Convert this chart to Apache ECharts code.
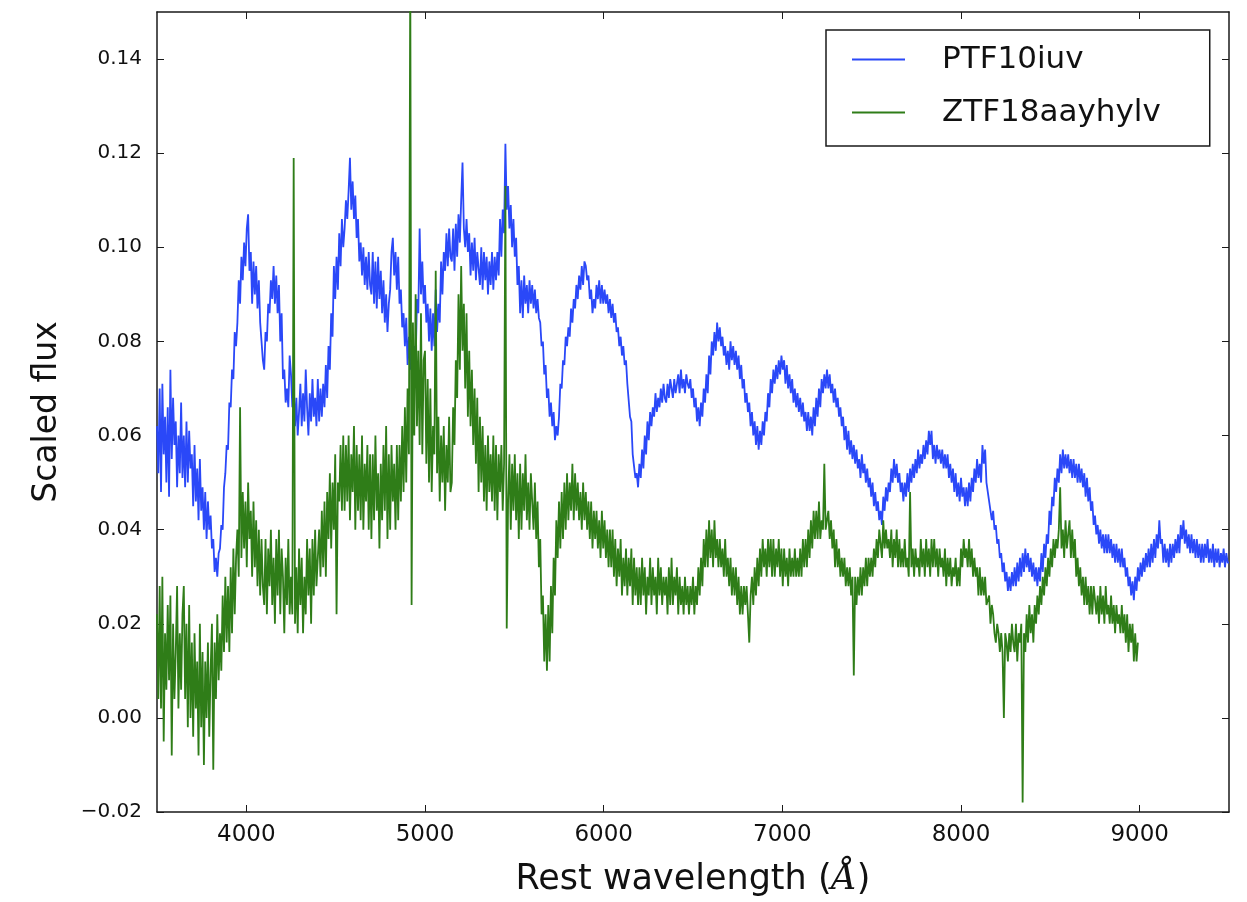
<!DOCTYPE html>
<html>
<head>
<meta charset="utf-8">
<script src="https://cdn.jsdelivr.net/npm/echarts@6/dist/echarts.min.js"></script>
<style>
html,body{margin:0;padding:0;background:#ffffff;}
#chart{width:1247px;height:902px;}
</style>
</head>
<body>
<div id="chart"></div>
<script>
// ---- data (flux values in units of 0.001) ----
const seriesNames = ['PTF10iuv', 'ZTF18aayhylv'];
const xTickValues = [4000, 5000, 6000, 7000, 8000, 9000];
const yTickValues = [-0.02, 0.00, 0.02, 0.04, 0.06, 0.08, 0.10, 0.12, 0.14];

// wavelength grid (Angstrom) of the sampled points
const ptfStart = 3500, ptfStep = 7.5;
const ptfFluxMilli = [
  62, 52, 70, 48, 71, 56, 64, 50, 66, 47, 74, 55, 68, 58, 63, 49, 60, 52, 67, 51,
  60, 49, 63, 50, 61, 53, 56, 45, 58, 46, 53, 42, 55, 44, 49, 40, 48, 38, 46, 40,
  43, 36, 38, 31, 34, 30, 35, 36, 41, 40, 49, 52, 58, 57, 67, 66, 74, 72, 82, 79,
  84, 93, 88, 98, 93, 101, 96, 104, 107, 95, 99, 88, 97, 90, 96, 87, 93, 84, 80, 76,
  74, 82, 80, 88, 86, 93, 89, 96, 88, 94, 86, 92, 80, 86, 72, 74, 67, 70, 66, 77,
  73, 66, 70, 62, 68, 60, 65, 71, 62, 69, 63, 74, 66, 60, 69, 63, 72, 64, 68, 62,
  72, 63, 70, 64, 71, 66, 75, 68, 79, 74, 86, 81, 96, 89, 98, 91, 103, 96, 106, 100,
  104, 110, 106, 112, 119, 108, 114, 106, 111, 102, 106, 97, 101, 94, 100, 92, 98, 91, 99, 92,
  90, 99, 88, 97, 87, 98, 89, 95, 86, 93, 84, 90, 82, 88, 91, 99, 102, 94, 99, 91,
  98, 88, 91, 83, 86, 79, 85, 75, 81, 74, 80, 73, 79, 75, 89, 86, 104, 90, 97, 88,
  92, 84, 88, 80, 87, 78, 86, 79, 91, 82, 88, 84, 97, 90, 99, 95, 103, 96, 104, 98,
  97, 104, 95, 105, 98, 107, 101, 110, 118, 104, 100, 106, 99, 103, 94, 101, 95, 102, 93, 99,
  99, 92, 100, 91, 99, 93, 98, 90, 97, 92, 99, 91, 98, 93, 99, 94, 106, 98, 108, 103,
  122, 108, 113, 104, 109, 100, 106, 98, 102, 92, 96, 86, 93, 85, 94, 88, 92, 86, 93, 88,
  92, 87, 91, 86, 89, 85, 84, 79, 80, 73, 75, 68, 70, 64, 67, 62, 65, 59, 62, 60,
  64, 71, 70, 76, 75, 81, 79, 83, 81, 87, 84, 89, 87, 92, 89, 94, 91, 96, 92, 97,
  96, 93, 94, 89, 91, 86, 89, 87, 92, 89, 93, 88, 92, 88, 91, 88, 90, 86, 89, 85,
  88, 84, 86, 82, 83, 79, 81, 77, 79, 75, 76, 71, 71, 64, 63, 56, 56, 51, 52, 49,
  54, 51, 57, 53, 60, 56, 63, 59, 65, 62, 66, 64, 69, 65, 68, 66, 70, 67, 71, 68,
  67, 71, 68, 72, 70, 68, 72, 69, 71, 73, 69, 74, 70, 72, 69, 73, 71, 70, 72, 68,
  70, 66, 68, 63, 66, 62, 67, 64, 70, 67, 73, 69, 77, 73, 80, 77, 82, 78, 84, 80,
  83, 79, 81, 77, 79, 75, 78, 74, 80, 76, 79, 75, 78, 74, 77, 72, 75, 70, 72, 67,
  69, 65, 67, 62, 65, 60, 63, 58, 62, 57, 61, 58, 63, 60, 65, 63, 69, 66, 72, 69,
  74, 71, 75, 72, 76, 73, 77, 74, 76, 71, 75, 70, 73, 69, 72, 67, 70, 66, 69, 65,
  68, 64, 67, 63, 65, 61, 65, 61, 64, 60, 66, 62, 68, 64, 70, 66, 72, 69, 73, 70,
  74, 70, 73, 69, 71, 67, 70, 66, 68, 64, 66, 62, 64, 59, 62, 57, 61, 56, 59, 55,
  58, 54, 57, 53, 55, 51, 56, 52, 54, 50, 53, 49, 51, 47, 50, 45, 48, 44, 46, 42,
  44, 41, 47, 44, 49, 46, 50, 48, 53, 50, 55, 51, 54, 50, 52, 48, 50, 46, 50, 47,
  52, 48, 53, 50, 54, 51, 55, 52, 57, 53, 56, 54, 58, 55, 59, 56, 61, 58, 61, 55,
  58, 54, 58, 55, 57, 54, 57, 53, 56, 53, 56, 51, 54, 50, 53, 48, 52, 47, 50, 46,
  51, 47, 49, 45, 49, 45, 50, 46, 51, 48, 53, 50, 55, 51, 54, 50, 58, 54, 57, 50,
  50, 46, 46, 42, 44, 40, 41, 37, 38, 34, 35, 31, 33, 29, 31, 27, 30, 27, 31, 28,
  32, 28, 33, 29, 34, 30, 35, 31, 36, 32, 35, 31, 34, 30, 33, 29, 32, 28, 32, 29,
  35, 31, 37, 34, 39, 37, 44, 41, 47, 45, 51, 48, 53, 50, 56, 52, 57, 53, 56, 53,
  56, 52, 55, 51, 55, 51, 54, 50, 54, 50, 53, 49, 52, 47, 51, 46, 49, 44, 46, 41,
  43, 39, 41, 37, 40, 36, 39, 35, 39, 35, 39, 35, 38, 34, 37, 33, 37, 33, 36, 32,
  36, 32, 34, 30, 32, 28, 30, 26, 29, 25, 30, 27, 32, 29, 33, 30, 34, 31, 35, 32,
  36, 32, 37, 33, 38, 34, 39, 36, 42, 37, 38, 33, 37, 33, 36, 32, 37, 33, 37, 34,
  38, 35, 39, 35, 41, 38, 42, 37, 40, 36, 39, 35, 39, 35, 38, 34, 38, 34, 37, 33,
  37, 33, 37, 34, 38, 33, 36, 33, 37, 32, 36, 33, 36, 32, 35, 33, 36, 32, 35, 33,
  33
];

const ztfStart = 3500, ztfStep = 7.5;
const ztfFluxMilli = [
  22, 4, 28, 2, 30, -5, 18, 6, 24, 8, 26, -8, 20, 4, 14, 28, 2, 18, 6, 22,
  28, 4, 20, -2, 24, 0, 16, -4, 18, 2, 12, -8, 20, -2, 14, -10, 12, 0, 16, -4,
  10, 20, -11, 16, 4, 22, 8, 18, 10, 26, 14, 30, 16, 28, 14, 32, 18, 36, 22, 34,
  40, 30, 66, 34, 48, 36, 46, 32, 50, 38, 44, 30, 46, 32, 42, 28, 40, 26, 38, 28,
  24, 38, 22, 36, 28, 40, 24, 34, 20, 38, 26, 40, 22, 36, 30, 18, 34, 24, 38, 22,
  30, 22, 119, 20, 32, 18, 36, 24, 34, 18, 30, 22, 38, 26, 36, 20, 38, 26, 40, 28,
  28, 40, 30, 44, 32, 46, 30, 48, 38, 52, 36, 50, 40, 56, 22, 50, 46, 58, 44, 60,
  44, 58, 46, 60, 42, 56, 48, 62, 40, 58, 44, 56, 42, 60, 40, 54, 46, 58, 40, 56,
  38, 56, 42, 60, 44, 52, 36, 54, 42, 58, 44, 62, 38, 56, 40, 58, 46, 54, 40, 58,
  42, 58, 46, 62, 48, 66, 50, 70, 56, 160, 24, 84, 60, 90, 62, 78, 58, 86, 56, 76,
  78, 54, 72, 50, 70, 48, 62, 56, 95, 52, 64, 46, 60, 50, 62, 44, 58, 50, 64, 48,
  50, 66, 58, 76, 68, 90, 74, 96, 78, 88, 70, 86, 64, 78, 62, 74, 58, 70, 54, 68,
  48, 64, 50, 62, 46, 58, 44, 60, 48, 56, 46, 60, 44, 58, 42, 56, 48, 58, 44, 54,
  113, 19, 46, 56, 40, 54, 44, 56, 42, 52, 38, 54, 40, 52, 44, 56, 42, 50, 40, 52,
  52, 40, 50, 38, 46, 32, 38, 22, 26, 12, 22, 10, 24, 12, 28, 18, 34, 26, 42, 34,
  46, 36, 48, 38, 50, 40, 52, 42, 50, 44, 54, 42, 52, 44, 50, 42, 48, 40, 50, 42,
  48, 40, 46, 38, 46, 36, 44, 38, 44, 36, 42, 34, 44, 36, 42, 34, 40, 32, 40, 32,
  40, 30, 38, 28, 36, 30, 38, 26, 34, 28, 36, 26, 34, 28, 36, 24, 34, 26, 32, 24,
  32, 24, 34, 26, 32, 22, 30, 26, 34, 24, 32, 26, 30, 22, 34, 26, 32, 24, 30, 26,
  30, 22, 32, 24, 34, 24, 30, 26, 32, 22, 30, 24, 28, 22, 30, 24, 28, 22, 28, 24,
  30, 22, 28, 24, 32, 26, 34, 28, 38, 32, 40, 32, 42, 34, 40, 32, 42, 34, 38, 32,
  38, 32, 36, 30, 38, 30, 34, 28, 34, 26, 32, 26, 32, 24, 30, 22, 28, 22, 28, 24,
  28, 22, 16, 26, 30, 24, 32, 26, 34, 28, 36, 30, 38, 32, 36, 30, 38, 32, 38, 30,
  38, 30, 36, 32, 38, 30, 36, 28, 36, 30, 34, 28, 36, 30, 34, 30, 36, 30, 34, 30,
  36, 30, 38, 32, 38, 32, 40, 34, 42, 36, 44, 38, 44, 38, 46, 38, 42, 40, 54, 40,
  40, 44, 38, 42, 36, 40, 32, 38, 32, 36, 30, 34, 30, 34, 28, 32, 28, 32, 26, 30,
  9, 30, 24, 30, 26, 32, 26, 32, 28, 34, 28, 34, 30, 34, 30, 36, 32, 38, 34, 40,
  40, 34, 42, 36, 40, 36, 38, 34, 40, 32, 38, 34, 40, 32, 38, 32, 36, 32, 38, 32,
  34, 30, 48, 32, 36, 30, 36, 32, 34, 30, 38, 32, 36, 30, 38, 32, 36, 30, 38, 32,
  38, 32, 36, 30, 36, 32, 34, 30, 36, 28, 34, 30, 34, 28, 32, 30, 34, 28, 32, 28,
  36, 32, 38, 34, 36, 32, 38, 32, 36, 30, 34, 30, 32, 26, 32, 26, 30, 26, 30, 24,
  24, 26, 20, 24, 22, 18, 16, 20, 18, 14, 18, 14, 0, 18, 16, 12, 18, 14, 20, 16,
  14, 20, 12, 18, 16, 20, -18, 18, 14, 22, 16, 24, 18, 22, 16, 24, 20, 26, 22, 28,
  24, 30, 26, 32, 28, 34, 30, 36, 32, 38, 34, 38, 36, 40, 49, 36, 40, 34, 42, 36,
  36, 42, 34, 40, 34, 38, 30, 34, 28, 32, 26, 30, 24, 30, 24, 28, 22, 28, 22, 28,
  28, 22, 26, 20, 28, 22, 26, 20, 28, 22, 24, 20, 26, 20, 24, 18, 24, 20, 22, 18,
  24, 18, 22, 16, 22, 14, 20, 16, 20, 12, 18, 12, 16
];

// ---- build ----
function toPairs(start, step, milli) {
  return milli.map(function (v, i) { return [start + i * step, v / 1000]; });
}

const frameColor = '#1a1a1a';
const textColor = '#111111';
const fontMain = 'DejaVu Sans, Noto Sans, sans-serif';

function yFmt(v) {
  const s = Math.abs(v).toFixed(2);
  return (v < -1e-9 ? '\u2212' : '') + s;
}
function xFmt(v) { return String(Math.round(v)); }

const xBase = {
  type: 'value', min: 3500, max: 9500,
  axisLine: { show: true, onZero: false, lineStyle: { color: frameColor, width: 1.5 } },
  splitLine: { show: false },
  axisTick: { show: true, inside: true, length: 7, customValues: xTickValues, lineStyle: { color: frameColor, width: 1 } }
};
const yBase = {
  type: 'value', min: -0.02, max: 0.15,
  axisLine: { show: true, onZero: false, lineStyle: { color: frameColor, width: 1.5 } },
  splitLine: { show: false },
  axisTick: { show: true, inside: true, length: 7, customValues: yTickValues, lineStyle: { color: frameColor, width: 1 } }
};

const option = {
  animation: false,
  backgroundColor: '#ffffff',
  grid: { left: 157, right: 18, top: 12, bottom: 89, containLabel: false },
  legend: {
    data: seriesNames,
    orient: 'vertical',
    left: 826, top: 30,
    icon: 'rect',
    itemWidth: 53, itemHeight: 2,
    itemGap: 22,
    padding: [14, 49, 18, 26],
    borderColor: frameColor, borderWidth: 1.5,
    backgroundColor: '#ffffff',
    textStyle: { fontFamily: fontMain, fontSize: 31, color: textColor, padding: [0, 0, 0, 32] }
  },
  xAxis: [
    Object.assign({}, xBase, {
      position: 'bottom',
      name: 'Rest wavelength ({a|Å})',
      nameLocation: 'middle', nameGap: 50,
      nameTextStyle: {
        fontFamily: fontMain, fontSize: 35, color: textColor,
        rich: { a: { fontFamily: 'DejaVu Serif, serif', fontStyle: 'italic', fontSize: 35, color: textColor } }
      },
      axisLabel: { show: true, customValues: xTickValues, margin: 12, fontFamily: fontMain, fontSize: 23, color: textColor, formatter: xFmt }
    }),
    Object.assign({}, xBase, { position: 'top', axisLabel: { show: false } })
  ],
  yAxis: [
    Object.assign({}, yBase, {
      position: 'left',
      name: 'Scaled flux',
      nameLocation: 'middle', nameGap: 93, nameRotate: 90,
      nameTextStyle: { fontFamily: fontMain, fontSize: 33, color: textColor },
      axisLabel: { show: true, customValues: yTickValues, margin: 15, fontFamily: fontMain, fontSize: 20, color: textColor, formatter: yFmt }
    }),
    Object.assign({}, yBase, { position: 'right', axisLabel: { show: false } })
  ],
  series: [
    {
      name: seriesNames[0], type: 'line', xAxisIndex: 0, yAxisIndex: 0,
      data: toPairs(ptfStart, ptfStep, ptfFluxMilli),
      showSymbol: false, symbol: 'none', clip: true, sampling: 'none',
      color: '#2a48f8',
      lineStyle: { color: '#2a48f8', width: 1.8 },
      z: 2
    },
    {
      name: seriesNames[1], type: 'line', xAxisIndex: 0, yAxisIndex: 0,
      data: toPairs(ztfStart, ztfStep, ztfFluxMilli),
      showSymbol: false, symbol: 'none', clip: true, sampling: 'none',
      color: '#2f7d18',
      lineStyle: { color: '#2f7d18', width: 1.8 },
      z: 3
    }
  ]
};

const chart = echarts.init(document.getElementById('chart'), null, { renderer: 'canvas' });
chart.setOption(option);
</script>
</body>
</html>
